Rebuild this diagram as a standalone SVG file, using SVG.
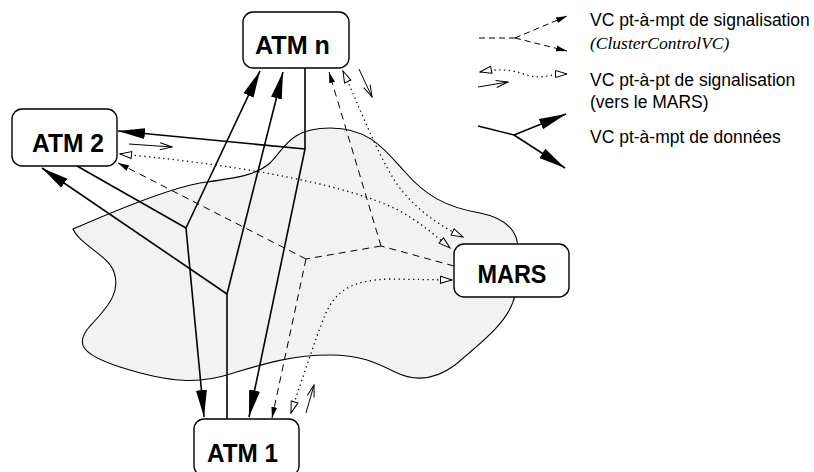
<svg xmlns="http://www.w3.org/2000/svg" width="814" height="472" viewBox="0 0 814 472">
<style>
.box{fill:#fff;stroke:#000;stroke-width:1.4}
.lbl{font-family:"Liberation Sans",Arial,sans-serif;font-weight:bold;font-size:26px;fill:#000;text-anchor:middle}
.leg{font-family:"Liberation Sans",Arial,sans-serif;font-size:17.5px;fill:#000}
.legi{font-family:"Liberation Serif","Times New Roman",serif;font-style:italic;font-size:17.5px;fill:#000}
.data{fill:none;stroke:#000;stroke-width:1.6}
.ctl{fill:none;stroke:#000;stroke-width:1;stroke-dasharray:7,5}
.sig{fill:none;stroke:#000;stroke-width:1.3;stroke-dasharray:1.3,3.5}
.thin{fill:none;stroke:#000;stroke-width:1}
</style>
<defs>
<marker id="big" markerUnits="userSpaceOnUse" markerWidth="28" markerHeight="12" refX="27" refY="6" orient="auto">
<path d="M0,0.5 L27,6 L0,11.5 Z" fill="#000" stroke="none"/>
</marker>
<marker id="small" markerUnits="userSpaceOnUse" markerWidth="12" markerHeight="7" refX="11" refY="3.5" orient="auto">
<path d="M0,0.5 L11,3.5 L0,6.5 Z" fill="#000" stroke="none"/>
</marker>
<marker id="open" markerUnits="userSpaceOnUse" markerWidth="14" markerHeight="9" refX="12.5" refY="4.5" orient="auto-start-reverse">
<path d="M1,1 L12.5,4.5 L1,8 Z" fill="#fff" stroke="#000" stroke-width="1" stroke-dasharray="none"/>
</marker>
<marker id="vee" markerUnits="userSpaceOnUse" markerWidth="14" markerHeight="9" refX="12.5" refY="4.5" orient="auto">
<path d="M0.5,1 L12.5,4.5 L0.5,8" fill="none" stroke="#000" stroke-width="1" stroke-dasharray="none"/>
</marker>
</defs>

<g id="cloud">
<path d="M73,229 C90,222 160,190 200,183 C235,178 255,176 270,163 C285,148 290,128 330,128 C370,128 385,150 405,172 C425,195 445,207 480,213 C515,220 520,240 517,255 L515,295 C510,320 485,340 455,365 C435,380 415,382 395,372 C375,362 360,355 330,355 C290,355 260,365 230,374 C200,384 170,383 120,367 C80,354 75,343 90,326 C112,303 120,290 114,272 C108,255 80,245 73,229 Z" fill="#f2f2f2" stroke="#000" stroke-width="1.1"/>
</g>

<g id="connectors">
<path class="data" d="M305,68 L305,149"/>
<path class="data" d="M305,149 L118,131" marker-end="url(#big)"/>
<path class="data" d="M305,149 L249,417" marker-end="url(#big)"/>
<path class="data" d="M77,166 L186,228"/>
<path class="data" d="M186,228 L260,71" marker-end="url(#big)"/>
<path class="data" d="M186,228 L204,417" marker-end="url(#big)"/>
<path class="data" d="M227,419 L227,294"/>
<path class="data" d="M227,294 L42,168" marker-end="url(#big)"/>
<path class="data" d="M227,294 L283,72" marker-end="url(#big)"/>
<path class="ctl" d="M454,266 L381,246"/>
<path class="ctl" d="M381,246 L329,72" marker-end="url(#small)"/>
<path class="ctl" d="M381,246 L306,259"/>
<path class="ctl" d="M306,259 L118,163" marker-end="url(#small)"/>
<path class="ctl" d="M306,259 L272,418" marker-end="url(#small)"/>
<path class="sig" d="M120,154 C250,166 350,186 398,210 C420,222 436,236 450,248" marker-start="url(#open)" marker-end="url(#open)"/>
<path class="sig" d="M343,71 C365,120 383,168 403,192 C420,212 440,226 463,237" marker-start="url(#open)" marker-end="url(#open)"/>
<path class="sig" d="M291,413 C300,385 315,340 325,315 C335,292 350,280 390,279 L452,280" marker-start="url(#open)" marker-end="url(#open)"/>
<path class="thin" d="M129,144 L172,147" marker-end="url(#vee)"/>
<path class="thin" d="M359,69 L372,97" marker-end="url(#vee)"/>
<path class="thin" d="M306,413 L314,385" marker-end="url(#vee)"/>
</g>

<g id="atm-n"><rect class="box" x="243" y="12" width="106" height="56" rx="10"/><text class="lbl" x="292.5" y="54" textLength="75" lengthAdjust="spacingAndGlyphs">ATM n</text></g>
<g id="atm-2"><rect class="box" x="12" y="109" width="105" height="57" rx="10"/><text class="lbl" x="68" y="152" textLength="72" lengthAdjust="spacingAndGlyphs">ATM 2</text></g>
<g id="atm-1"><rect class="box" x="194" y="419" width="105" height="57" rx="10"/><text class="lbl" x="242.5" y="462" textLength="71" lengthAdjust="spacingAndGlyphs">ATM 1</text></g>
<g id="mars"><rect class="box" x="454" y="244" width="115" height="53" rx="10"/><text class="lbl" x="512" y="283" textLength="69" lengthAdjust="spacingAndGlyphs">MARS</text></g>

<g id="legend">
<path class="ctl" style="stroke-dasharray:6,4" d="M479,38 L515,38"/>
<path class="ctl" style="stroke-dasharray:6,4" d="M515,38 L567,16" marker-end="url(#small)"/>
<path class="ctl" style="stroke-dasharray:6,4" d="M515,38 L567,51" marker-end="url(#small)"/>
<text class="leg" x="590" y="26">VC pt-à-mpt de signalisation</text>
<text class="legi" x="590" y="49">(ClusterControlVC)</text>
<path class="sig" d="M480,72 C505,67 518,72 530,76 C541,79 550,74 567,74" marker-start="url(#open)" marker-end="url(#open)"/>
<path class="thin" d="M478,87 L508,82" marker-end="url(#vee)"/>
<text class="leg" x="590" y="86">VC pt-à-pt de signalisation</text>
<text class="leg" x="590" y="108">(vers le MARS)</text>
<path class="data" d="M478,126 L514,135"/>
<path class="data" d="M514,135 L566,114" marker-end="url(#big)"/>
<path class="data" d="M514,135 L565,168" marker-end="url(#big)"/>
<text class="leg" x="590" y="143">VC pt-à-mpt de données</text>
</g>
</svg>
